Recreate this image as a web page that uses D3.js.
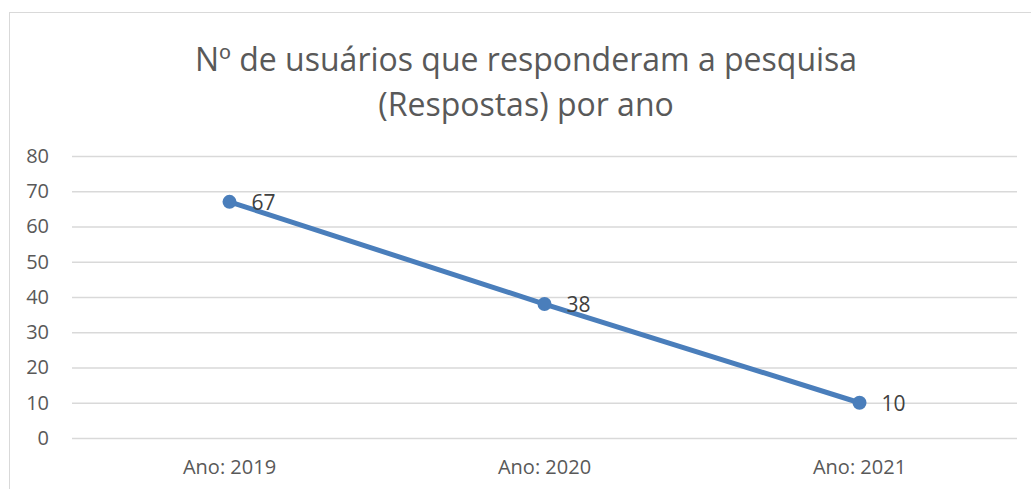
<!DOCTYPE html>
<meta charset="UTF-8">
<title>Respostas por ano</title>
<style>
  body { margin: 0; background: #fff; }
  text { font-family: "Open Sans", "Liberation Sans", sans-serif; }
</style>
<svg width="1031" height="489"></svg>
<script src="https://d3js.org/d3.v7.min.js"></script>
<script>
var categories = ["Ano: 2019", "Ano: 2020", "Ano: 2021"];
var respostas = [67, 38, 10];
var yTicks = [0, 10, 20, 30, 40, 50, 60, 70, 80];
var titleLines = ["Nº de usuários que responderam a pesquisa", "(Respostas) por ano"];

var svg = d3.select("svg"),
    margin = {top: 156, right: 14, bottom: 51, left: 72},
    width = +svg.attr("width") - margin.left - margin.right,
    height = +svg.attr("height") - margin.top - margin.bottom;

// chart frame (right and bottom edges run past the picture)
svg.append("rect")
    .attr("x", 9.5).attr("y", 12.5)
    .attr("width", 1040).attr("height", 500)
    .attr("fill", "none")
    .attr("stroke", "#d9d9d9");

svg.append("text")
    .attr("x", 526)
    .attr("y", 71)
    .attr("text-anchor", "middle")
    .attr("fill", "#595959")
    .attr("font-size", 32)
  .selectAll("tspan")
  .data(titleLines)
  .enter().append("tspan")
    .attr("x", 526)
    .attr("dy", function(d, i) { return i ? 45 : 0; })
    .text(function(d) { return d; });

var g = svg.append("g").attr("transform", "translate(" + margin.left + "," + margin.top + ")");

var x = d3.scaleBand().domain(categories).range([0, width]);
var y = d3.scaleLinear().domain([0, 80]).range([height, 0]);

g.append("g")
    .call(d3.axisLeft(y).tickValues(yTicks).tickSize(-width).tickPadding(23))
    .call(function(a) {
      a.select(".domain").remove();
      a.selectAll(".tick line").attr("stroke", "#d9d9d9").attr("stroke-width", 1.3);
      a.selectAll(".tick text").attr("fill", "#595959").attr("font-size", 20)
        .attr("font-family", "'Open Sans', sans-serif");
    });

g.append("g")
    .attr("transform", "translate(0," + height + ")")
    .call(d3.axisBottom(x).tickSize(0).tickPadding(22))
    .call(function(a) {
      a.select(".domain").remove();
      a.selectAll(".tick text").attr("fill", "#595959").attr("font-size", 20)
        .attr("font-family", "'Open Sans', sans-serif");
    });

var pts = categories.map(function(c, i) { return {c: c, v: respostas[i]}; });

var line = d3.line()
    .x(function(d) { return x(d.c) + x.bandwidth() / 2; })
    .y(function(d) { return y(d.v); });

g.append("path")
    .datum(pts)
    .attr("fill", "none")
    .attr("stroke", "#4a7ebb")
    .attr("stroke-width", 5)
    .attr("stroke-linejoin", "round")
    .attr("d", line);

g.selectAll(".dot")
  .data(pts)
  .enter().append("circle")
    .attr("cx", function(d) { return x(d.c) + x.bandwidth() / 2; })
    .attr("cy", function(d) { return y(d.v); })
    .attr("r", 7)
    .attr("fill", "#4a7ebb");

g.selectAll(".lbl")
  .data(pts)
  .enter().append("text")
    .attr("x", function(d) { return x(d.c) + x.bandwidth() / 2 + 22; })
    .attr("y", function(d) { return y(d.v); })
    .attr("dy", "0.38em")
    .attr("fill", "#404040")
    .attr("font-size", 21)
    .text(function(d) { return d.v; });
</script>
